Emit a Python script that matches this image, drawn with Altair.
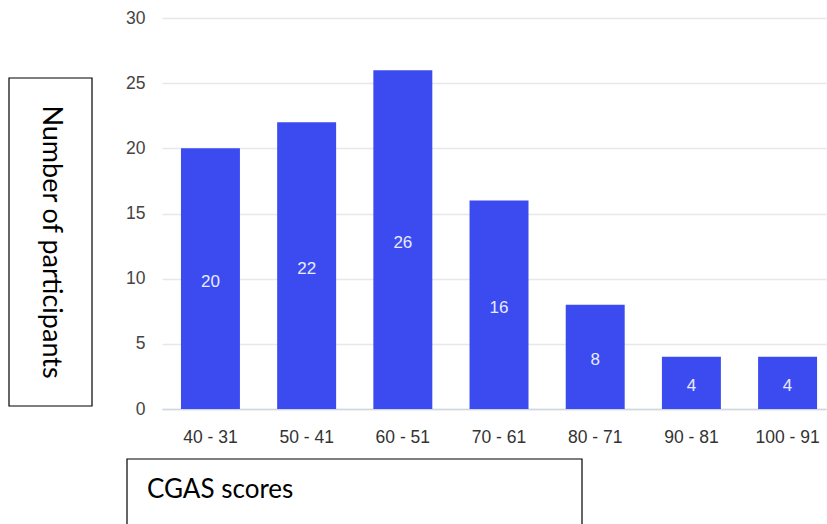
import altair as alt
import pandas as pd

categories = ["40 - 31", "50 - 41", "60 - 51", "70 - 61", "80 - 71", "90 - 81", "100 - 91"]
counts = [20, 22, 26, 16, 8, 4, 4]
y_title = "Number of participants"
x_title = "CGAS scores"

df = pd.DataFrame({"cat": categories, "n": counts})
df["mid"] = df["n"] / 2

W, H = 664, 391
FONT = "Liberation Sans"
TITLE_FONT = "Lato"

xscale = alt.Scale(domain=categories, paddingInner=0.387, paddingOuter=0.145, align=0.68)
yscale = alt.Scale(domain=[0, 30], nice=False)

x_enc = alt.X("cat:N", sort=categories, scale=xscale, title=None,
              axis=alt.Axis(labelAngle=0, labelFont=FONT, labelFontSize=17.5, labelColor="#333333",
                            labelPadding=19, ticks=False, domain=True, domainColor="#cfd6e4",
                            domainWidth=1.5, grid=False))

bars = alt.Chart(df).mark_bar(color="#3b4bf0").encode(
    x=x_enc,
    y=alt.Y("n:Q", scale=yscale, title=None,
            axis=alt.Axis(values=[0, 5, 10, 15, 20, 25, 30], labelFont=FONT, labelFontSize=17.5,
                          labelColor="#444444", labelPadding=17, ticks=False, domain=False,
                          grid=True, gridColor="#e8e8e8", gridWidth=1.5)),
)

labels = alt.Chart(df).mark_text(color="#e8ebff", font=FONT, fontSize=17, baseline="middle", dy=3).encode(
    x=alt.X("cat:N", sort=categories, scale=xscale),
    y=alt.Y("mid:Q", scale=yscale),
    text=alt.Text("n:Q"),
)

one = pd.DataFrame({"k": [0]})
box_y = alt.Chart(one).mark_rect(fill="white", stroke="black", strokeWidth=1.2).encode(
    x=alt.value(-153), x2=alt.value(-70), y=alt.value(60), y2=alt.value(388))
text_y = alt.Chart(one).mark_text(text=y_title, angle=90, font=TITLE_FONT, fontSize=27,
                                  color="black", align="center", baseline="middle").encode(
    x=alt.value(-111), y=alt.value(224))
box_x = alt.Chart(one).mark_rect(fill="white", stroke="black", strokeWidth=1.2).encode(
    x=alt.value(-35), x2=alt.value(420), y=alt.value(441), y2=alt.value(520))
text_x = alt.Chart(one).mark_text(text=x_title, font=TITLE_FONT, fontSize=26,
                                  color="black", align="left", baseline="alphabetic").encode(
    x=alt.value(-15), y=alt.value(480))

chart = alt.layer(bars, labels, box_y, text_y, box_x, text_x).properties(
    width=W, height=H,
    autosize=alt.AutoSizeParams(type="none"),
    padding={"left": 162, "top": 18, "right": 1, "bottom": 115},
).configure(background="white", view=alt.ViewConfig(stroke=None))

chart.save("out.html", embed_options={"renderer": "svg", "actions": False})
